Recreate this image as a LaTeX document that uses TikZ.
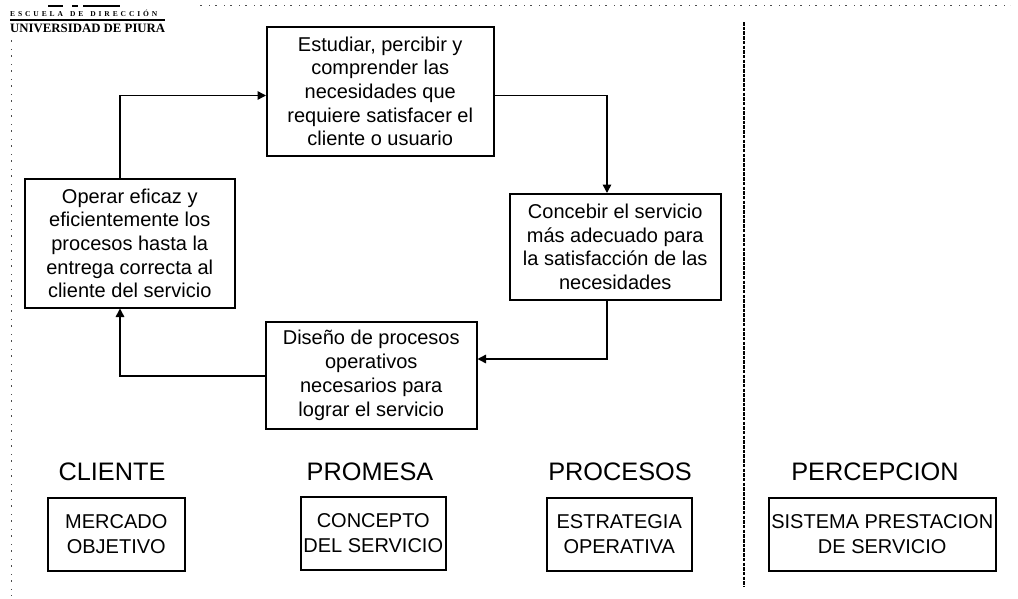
\documentclass[tikz,border=0pt]{standalone}
\usepackage{fontspec}
\setmainfont{Liberation Sans}
\newfontfamily\logoserif{Liberation Serif}
\usetikzlibrary{arrows.meta}
\tikzset{
  x=1pt,y=-1pt,
  flowbox/.style={draw=black,line width=1.5pt,align=center,font=\fontsize{20}{23.7}\selectfont,inner sep=0pt,anchor=north west},
  basebox/.style={draw=black,line width=1.5pt,align=center,font=\fontsize{20}{24.5}\selectfont,inner sep=0pt,anchor=north west},
  heading/.style={font=\fontsize{25.3}{28}\selectfont,inner sep=0pt},
  flow/.style={draw=black,line width=1.5pt,-{Triangle[length=8.5pt,width=8.5pt]}},
  logo/.style={inner sep=0pt,anchor=west},
  scanedge/.style={draw=black!70,line width=0.7pt,dash pattern=on 2pt off 7pt on 1pt off 5pt},
}
\begin{document}
\begin{tikzpicture}
\useasboundingbox (0,0) rectangle (1018,598);
\fill[white] (0,0) rectangle (1018,598);
% scan edges
\coordinate (edgeA) at (11,40);
\coordinate (edgeB) at (11,596);
\draw[scanedge] (edgeA) -- (edgeB);
\coordinate (edgeC) at (200,5);
\coordinate (edgeD) at (1010,5);
\draw[scanedge] (edgeC) -- (edgeD);
% logo
\draw[line width=2pt] (48,5.5) -- (63,5.5) (72,5.5) -- (78,5.5) (83,5.5) -- (120,5.5);
\node[logo,font=\logoserif\bfseries\fontsize{7.5}{9}\selectfont] (school) at (10,13.7)
  {E\hspace{2.9pt}S\hspace{2.9pt}C\hspace{2.9pt}U\hspace{2.9pt}E\hspace{2.9pt}L\hspace{2.9pt}A\hspace{7pt}D\hspace{2.9pt}E\hspace{7pt}D\hspace{2.9pt}I\hspace{2.9pt}R\hspace{2.9pt}E\hspace{2.9pt}C\hspace{2.9pt}C\hspace{2.9pt}I\hspace{2.9pt}Ó\hspace{2.9pt}N};
\draw[line width=1.2pt] (10,20) -- (165,20);
\node[logo,font=\logoserif\bfseries\fontsize{12.8}{15}\selectfont] (univ) at (10,28.5) {UNIVERSIDAD DE PIURA};
% process boxes
\node[flowbox,minimum width=227pt,minimum height=129pt] (study) at (266,26)
  {Estudiar, percibir y\\comprender las\\necesidades que\\requiere satisfacer el\\cliente o usuario};
\node[flowbox,minimum width=210pt,minimum height=129pt] (operate) at (24,178)
  {Operar eficaz y\\eficientemente los\\procesos hasta la\\entrega correcta al\\cliente del servicio};
\node[flowbox,minimum width=211pt,minimum height=106pt] (conceive) at (509,193)
  {Concebir el servicio\\más adecuado para\\la satisfacción de las\\necesidades};
\node[flowbox,minimum width=211pt,minimum height=107pt,font=\fontsize{20}{24}\selectfont] (design) at (265,321)
  {Diseño de procesos\\operativos\\necesarios para\\lograr el servicio};
% connectors
\coordinate (a1) at (120,95.5);
\draw[flow] (operate.north west -| a1) -- (a1) -- (study.west |- a1);
\coordinate (b1) at (607,95.5);
\draw[flow] (study.east |- b1) -- (b1) -- (conceive.north west -| b1);
\coordinate (c1) at (607,359);
\draw[flow] (conceive.south west -| c1) -- (c1) -- (design.east |- c1);
\coordinate (d1) at (120,376);
\draw[flow] (design.west |- d1) -- (d1) -- (operate.south west -| d1);
% divider
\coordinate (top) at (744,22);
\coordinate (bottom) at (744,587);
\draw[line width=2pt,dash pattern=on 3.5pt off 1.2pt] (top) -- (bottom);
% headings
\node[heading] (h1) at (112,472) {CLIENTE};
\node[heading] (h2) at (370,472) {PROMESA};
\node[heading] (h3) at (620,472) {PROCESOS};
\node[heading] (h4) at (875,472) {PERCEPCION};
% base boxes
\node[basebox,minimum width=137pt,minimum height=73pt] (market) at (47,497) {MERCADO\\OBJETIVO};
\node[basebox,minimum width=145pt,minimum height=73pt] (concept) at (300,496) {CONCEPTO\\DEL SERVICIO};
\node[basebox,minimum width=145pt,minimum height=73pt] (strategy) at (546,497) {ESTRATEGIA\\OPERATIVA};
\node[basebox,minimum width=227pt,minimum height=73pt] (system) at (768,497) {SISTEMA PRESTACION\\DE SERVICIO};
\end{tikzpicture}
\end{document}
